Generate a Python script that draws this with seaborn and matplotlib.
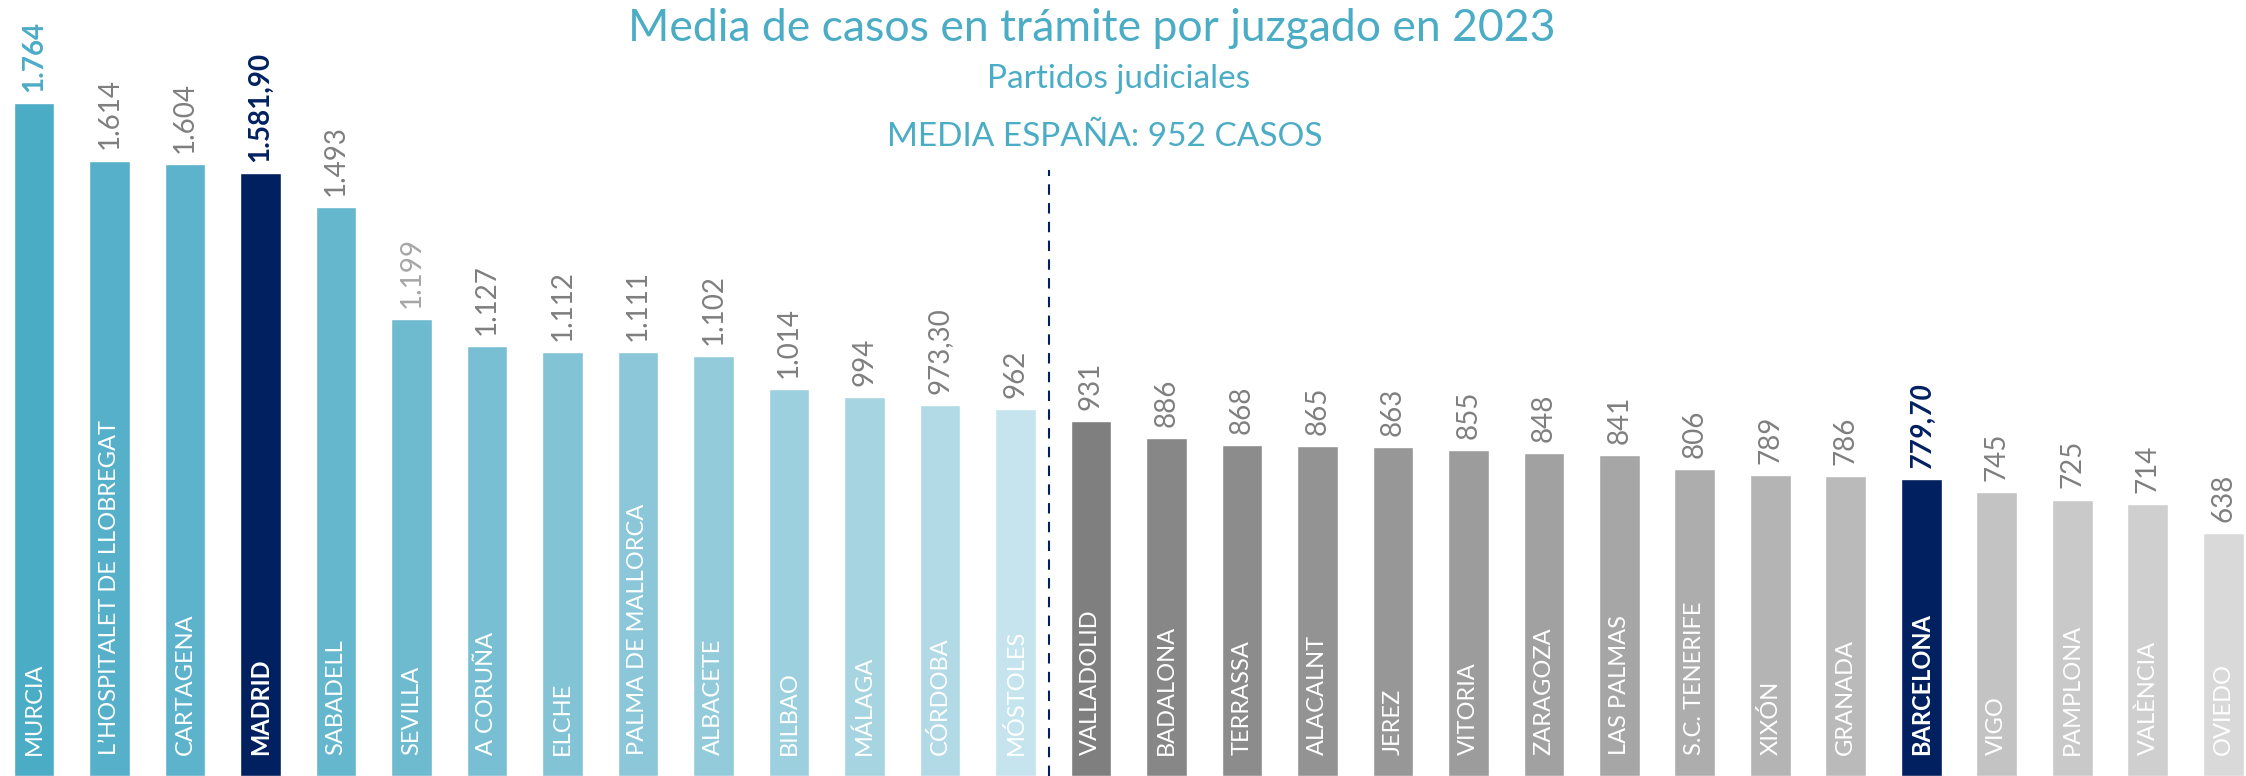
# plot.py
# Media de casos en tramite por juzgado - partidos judiciales 2023

import pandas as pd
import seaborn as sns
import matplotlib.pyplot as plt

# Data
partidos = [
    'MURCIA', 'L\u2019HOSPITALET DE LLOBREGAT', 'CARTAGENA', 'MADRID', 'SABADELL',
    'SEVILLA', 'A CORUÑA', 'ELCHE', 'PALMA DE MALLORCA', 'ALBACETE', 'BILBAO',
    'MÁLAGA', 'CÓRDOBA', 'MÓSTOLES', 'VALLADOLID', 'BADALONA', 'TERRASSA',
    'ALACALNT', 'JEREZ', 'VITORIA', 'ZARAGOZA', 'LAS PALMAS', 'S.C. TENERIFE',
    'XIXÓN', 'GRANADA', 'BARCELONA', 'VIGO', 'PAMPLONA', 'VALÈNCIA', 'OVIEDO'
]
casos = [
    1764, 1614, 1604, 1581.90, 1493, 1199, 1127, 1112, 1111, 1102, 1014,
    994, 973.30, 962, 931, 886, 868, 865, 863, 855, 848, 841, 806,
    789, 786, 779.70, 745, 725, 714, 638
]
etiquetas = [
    '1.764', '1.614', '1.604', '1.581,90', '1.493', '1.199', '1.127', '1.112',
    '1.111', '1.102', '1.014', '994', '973,30', '962', '931', '886', '868',
    '865', '863', '855', '848', '841', '806', '789', '786', '779,70', '745',
    '725', '714', '638'
]
media_espana = 952
destacados = ['MADRID', 'BARCELONA']

# Colours (blue gradient above the mean, grey gradient below)
navy = '#002060'
azul = '#4BACC6'
colores = [
    '#4BACC6', '#56B0CA', '#5CB3CB', navy, '#65B7CE', '#6EBBD0', '#79BFD4',
    '#82C3D6', '#8BC7D8', '#93CBDB', '#9CD0DF', '#A6D4E1', '#B2DAE6', '#C5E4ED',
    '#7F7F7F', '#878787', '#8C8C8C', '#939393', '#979797', '#9C9C9C', '#A1A1A1',
    '#A6A6A6', '#ADADAD', '#B4B4B4', '#BABABA', navy, '#C3C3C3', '#C9C9C9',
    '#CFCFCF', '#D9D9D9'
]

df = pd.DataFrame({'partido': partidos, 'casos': casos, 'etiqueta': etiquetas})

sns.set_style('white')
plt.rcParams['font.family'] = ['Lato', 'DejaVu Sans']

fig = plt.figure(figsize=(22.46, 7.76), dpi=100)
ax = fig.add_axes([0, 0, 1, 1])

sns.barplot(data=df, x='partido', y='casos', hue='partido', palette=colores,
            legend=False, width=0.54, saturation=1, ax=ax)

ax.set_xlim(-0.45, 29.3)
ax.set_ylim(0, 2035)
ax.axis('off')

# Value labels above bars and names inside bars
for i, row in df.iterrows():
    peso = 'normal'
    estilo = 'normal'
    col_val = '#7F7F7F'
    if row['partido'] == 'MURCIA':
        peso, col_val = 'bold', azul
    elif row['partido'] in destacados:
        peso, col_val = 'bold', navy
        if row['partido'] == 'BARCELONA':
            estilo = 'italic'
    elif row['partido'] == 'SEVILLA':
        col_val = '#A6A6A6'
    ax.annotate(row['etiqueta'], xy=(i, row['casos']), xytext=(0, 8),
                textcoords='offset points', rotation=90, ha='center', va='bottom',
                fontsize=20, color=col_val, fontweight=peso, fontstyle=estilo)
    ax.annotate(row['partido'], xy=(i, 0), xytext=(0, 15),
                textcoords='offset points', rotation=90, ha='center', va='bottom',
                fontsize=17, color='white',
                fontweight='bold' if row['partido'] in destacados else 'normal')

# Spain average separator
ax.vlines(13.45, 0, 1590, colors=navy, linestyles=(0, (5, 4)), linewidth=1.5)

fig.text(0.486, 0.963, 'Media de casos en trámite por juzgado en 2023',
         ha='center', va='center', fontsize=32, color=azul)
fig.text(0.498, 0.898, 'Partidos judiciales', ha='center', va='center',
         fontsize=24, color=azul)
fig.text(0.492, 0.823, f'MEDIA ESPAÑA: {media_espana} CASOS', ha='center',
         va='center', fontsize=24, color=azul)

fig.savefig('out.png', dpi=100)
